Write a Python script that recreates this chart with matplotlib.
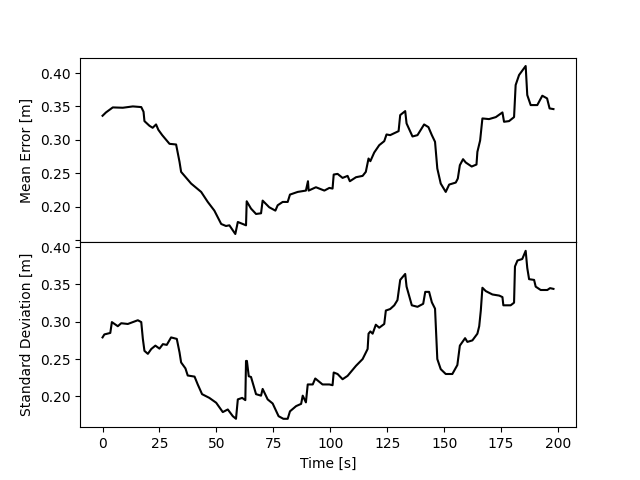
import matplotlib
matplotlib.use("Agg")
import numpy as np
from matplotlib import pyplot as plt

# mean error trace (time, value)
t_mean = [0, 1.5, 4.5, 8.9, 13.3, 17, 18, 18.4, 20.6, 22, 23.5, 24.5, 26.2, 29.4, 32.3, 33.8,
          34.5, 38.9, 43.3, 46.2, 49.1, 52.1, 54.2, 55.7, 58.3, 59.4, 63, 63.3, 65.2, 67.4,
          69.6, 70.3, 73.2, 75.9, 76.9, 79.1, 81.3, 82.3, 85.7, 89.3, 90.2, 90.5, 93.7, 97.4,
          99.6, 101, 101.5, 103.2, 105.4, 107.6, 108.6, 111.3, 114.2, 115.6, 116.8, 117.6,
          119.3, 121.5, 123.7, 124.7, 126.3, 130, 130.7, 132.9, 133.5, 136.1, 138.3, 141.2,
          143.1, 144.6, 146, 147, 148.5, 150.7, 152.2, 155.1, 156, 156.9, 158.3, 159.5, 162.1,
          164.2, 164.6, 165.8, 166.8, 169.7, 172.7, 175.6, 176.3, 178.5, 180.7, 181.4, 182.9,
          185.8, 186.5, 188, 190.9, 193.1, 195.2, 196.3, 198]
mean_err = [0.336, 0.341, 0.3485, 0.348, 0.350, 0.349, 0.342, 0.328, 0.321, 0.318, 0.323, 0.315,
            0.307, 0.294, 0.293, 0.267, 0.252, 0.2345, 0.222, 0.207, 0.194, 0.174, 0.171, 0.172,
            0.159, 0.177, 0.172, 0.208, 0.197, 0.189, 0.190, 0.209, 0.199, 0.194, 0.202, 0.207,
            0.207, 0.218, 0.222, 0.224, 0.238, 0.224, 0.229, 0.224, 0.228, 0.227, 0.248, 0.249,
            0.243, 0.246, 0.238, 0.244, 0.246, 0.252, 0.272, 0.268, 0.281, 0.292, 0.298, 0.308,
            0.307, 0.313, 0.337, 0.343, 0.3245, 0.305, 0.307, 0.323, 0.319, 0.307, 0.297, 0.257,
            0.2345, 0.222, 0.233, 0.236, 0.242, 0.262, 0.271, 0.266, 0.260, 0.263, 0.282, 0.299,
            0.332, 0.331, 0.334, 0.341, 0.327, 0.328, 0.334, 0.382, 0.397, 0.4105, 0.367, 0.352,
            0.352, 0.366, 0.362, 0.347, 0.346]

# standard deviation trace (time, value)
t_std = [0, 0.8, 3.4, 4.1, 6.7, 8.2, 11.1, 15.5, 17, 17.7, 18.4, 19.9, 21.4, 23.2, 25, 26.5,
         28.2, 30.1, 32.6, 33.8, 34.5, 36.4, 37.4, 40.4, 41.8, 43.7, 46.9, 49.9, 52.8, 55,
         57.2, 58.6, 59.4, 61.3, 62.7, 63, 63.4, 64.2, 65.2, 67.4, 69.6, 70.3, 72.5, 74.7,
         77.3, 79.4, 81.3, 82.3, 85, 87.2, 87.9, 89.3, 90.1, 92.3, 93.4, 96.6, 99.6, 101,
         101.5, 103.2, 105.4, 107.6, 111.3, 114.2, 116.4, 116.8, 117.6, 118.6, 120, 121.5,
         123.7, 124.4, 126.3, 128.1, 129.5, 130.7, 132.9, 133.5, 135.8, 138.3, 140.8, 141.7,
         143.4, 144.6, 146, 147, 148.5, 150.7, 153.6, 155.8, 156.9, 159.2, 160.2, 162.4,
         164.6, 165.4, 166.1, 166.8, 168.3, 171.2, 174.2, 175.6, 176, 179.2, 180.7, 181.1,
         182.2, 184.3, 185.8, 186.5, 187.3, 189.5, 190.2, 192.4, 195.3, 196.5, 198]
std_dev = [0.279, 0.283, 0.285, 0.2995, 0.294, 0.298, 0.297, 0.302, 0.2995, 0.277, 0.261, 0.257,
           0.2635, 0.268, 0.264, 0.270, 0.269, 0.279, 0.277, 0.259, 0.2455, 0.2375, 0.228, 0.2265,
           0.216, 0.203, 0.198, 0.1915, 0.179, 0.1825, 0.1735, 0.170, 0.196, 0.198, 0.195, 0.2475,
           0.2475, 0.227, 0.226, 0.203, 0.201, 0.210, 0.196, 0.1905, 0.1735, 0.170, 0.170, 0.180,
           0.187, 0.190, 0.201, 0.192, 0.216, 0.216, 0.224, 0.216, 0.216, 0.215, 0.232, 0.230,
           0.223, 0.2275, 0.241, 0.250, 0.2635, 0.284, 0.287, 0.284, 0.296, 0.292, 0.297, 0.315,
           0.317, 0.322, 0.329, 0.356, 0.364, 0.347, 0.322, 0.320, 0.324, 0.340, 0.340, 0.326,
           0.3175, 0.250, 0.2365, 0.230, 0.230, 0.242, 0.268, 0.278, 0.273, 0.275, 0.284, 0.294,
           0.315, 0.3455, 0.341, 0.3365, 0.335, 0.333, 0.322, 0.322, 0.3255, 0.374, 0.382, 0.384,
           0.395, 0.372, 0.357, 0.356, 0.347, 0.3425, 0.3425, 0.345, 0.344]

fig, (ax1, ax2) = plt.subplots(2, 1, sharex=True)
fig.subplots_adjust(hspace=0)

ax1.plot(t_mean, mean_err, "k-")
ax1.set_ylabel("Mean Error [m]")
ax1.set_yticks([0.15, 0.20, 0.25, 0.30, 0.35, 0.40], ["", "0.20", "0.25", "0.30", "0.35", "0.40"])

ax2.plot(t_std, std_dev, "k-")
ax2.set_ylabel("Standard Deviation [m]")
ax2.set_xlabel("Time [s]")

plt.savefig("out.png")
